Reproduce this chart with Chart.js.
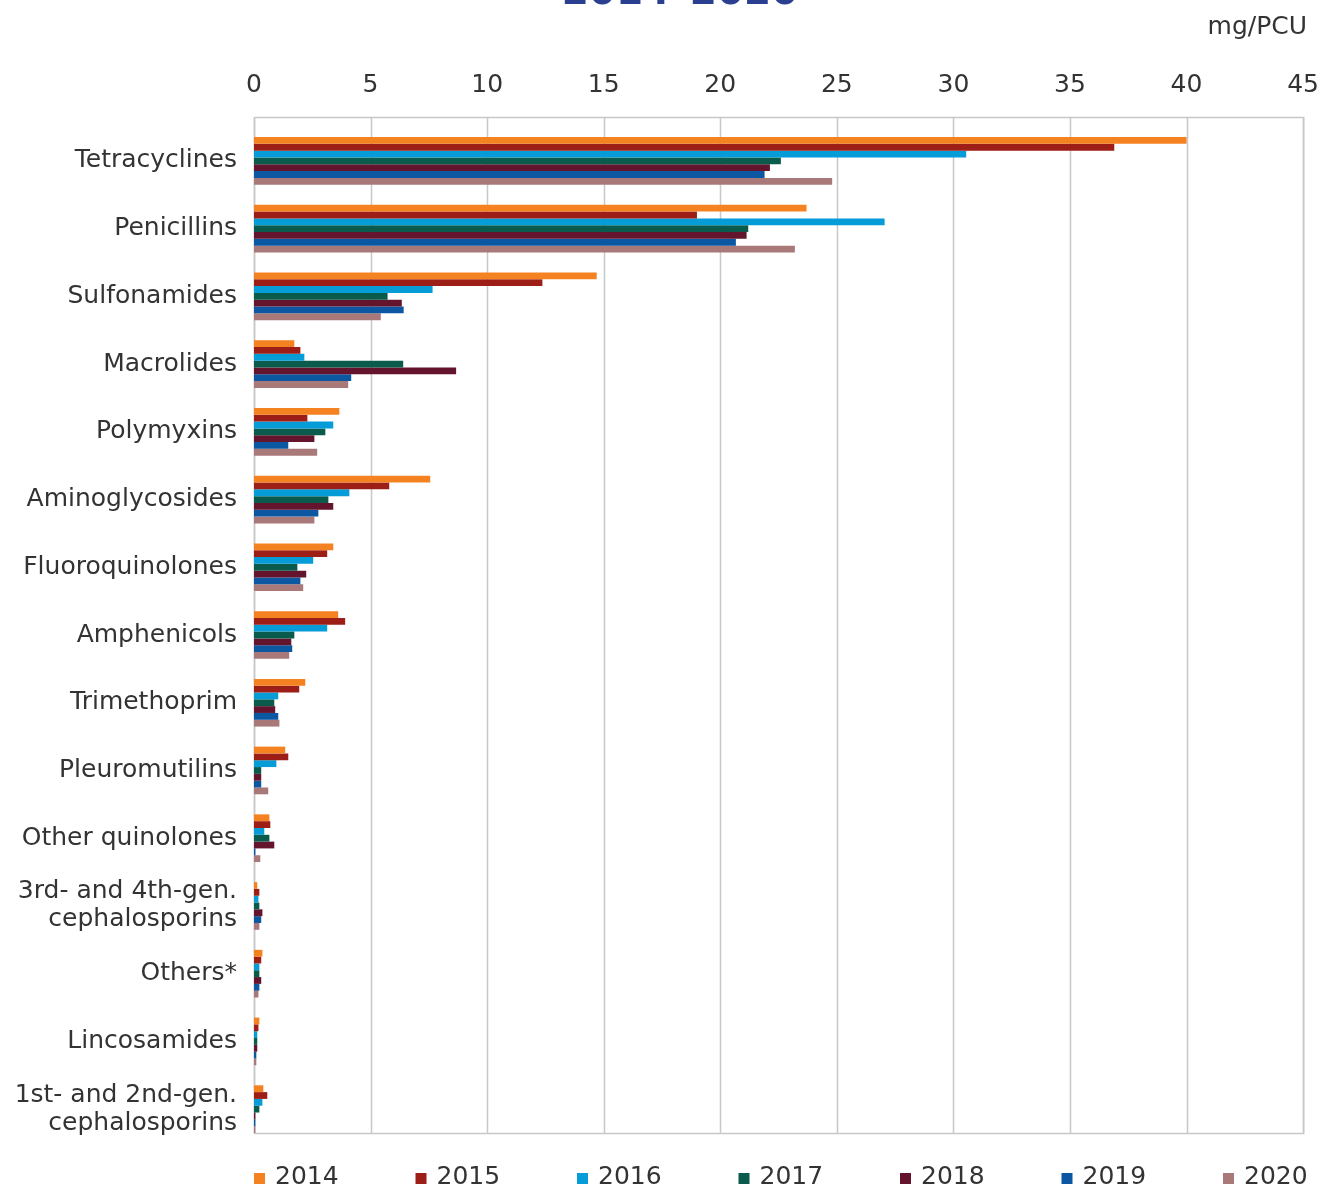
<!DOCTYPE html>
<html lang="en">
<head>
  <meta charset="UTF-8" />
  <title>Antimicrobial use by class, mg/PCU, 2014–2020</title>
  <script src="https://cdn.jsdelivr.net/npm/chart.js"></script>
  <style>
    body {
      margin: 0;
      background: #fff;
    }
    #wrap {
      width: 1321px;
      height: 1187px;
    }
  </style>
</head>
<body>
  <div id="wrap"><canvas id="classChart" width="1321" height="1187"></canvas></div>

  <script>
    const categories = [
      "Tetracyclines", "Penicillins", "Sulfonamides", "Macrolides", "Polymyxins",
      "Aminoglycosides", "Fluoroquinolones", "Amphenicols", "Trimethoprim", "Pleuromutilins",
      "Other quinolones", ["3rd- and 4th-gen.", "cephalosporins"], "Others*", "Lincosamides",
      ["1st- and 2nd-gen.", "cephalosporins"]
    ];
    const years = ["2014", "2015", "2016", "2017", "2018", "2019", "2020"];

    const y2014 = [40.0, 23.7, 14.7, 1.73, 3.66, 7.56, 3.4, 3.61, 2.2, 1.34, 0.66, 0.14, 0.36, 0.23, 0.4];
    const y2015 = [36.9, 19.0, 12.37, 1.99, 2.29, 5.8, 3.14, 3.91, 1.94, 1.47, 0.7, 0.23, 0.31, 0.19, 0.57];
    const y2016 = [30.55, 27.05, 7.66, 2.16, 3.4, 4.09, 2.54, 3.14, 1.04, 0.96, 0.44, 0.19, 0.23, 0.14, 0.36];
    const y2017 = [22.6, 21.2, 5.73, 6.4, 3.06, 3.19, 1.86, 1.73, 0.87, 0.31, 0.66, 0.23, 0.23, 0.14, 0.23];
    const y2018 = [22.13, 21.13, 6.34, 8.67, 2.59, 3.4, 2.24, 1.6, 0.91, 0.31, 0.87, 0.36, 0.31, 0.14, 0.06];
    const y2019 = [21.9, 20.67, 6.42, 4.17, 1.47, 2.76, 1.99, 1.64, 1.04, 0.31, 0.06, 0.31, 0.23, 0.1, 0.06];
    const y2020 = [24.8, 23.2, 5.44, 4.04, 2.71, 2.59, 2.11, 1.51, 1.09, 0.61, 0.27, 0.23, 0.19, 0.1, 0.06];

    const seriesValues = [y2014, y2015, y2016, y2017, y2018, y2019, y2020];
    const colors = ["#F58220", "#9C1E16", "#069CD8", "#0B5B4C", "#65142E", "#0B57A2", "#A97879"];

    const FONT = "'DejaVu Sans', Verdana, sans-serif";
    const TEXT = "#333333";
    const GRID = "#c8c8c8";

    // plot frame sits 10px above the category bands, like the original
    const frameTop = 117;
    const frameBottom = 1133;

    const framePlugin = {
      id: "frame",
      beforeDatasetsDraw(chart) {
        const ctx = chart.ctx;
        const x = chart.scales.x;
        const area = chart.chartArea;
        ctx.save();
        ctx.strokeStyle = GRID;
        ctx.lineWidth = 1.5;
        x.ticks.forEach(t => {
          const px = Math.round(x.getPixelForValue(t.value)) + 0.5;
          ctx.beginPath();
          ctx.moveTo(px, frameTop);
          ctx.lineTo(px, frameBottom);
          ctx.stroke();
        });
        ctx.strokeRect(area.left + 0.5, frameTop + 0.5, area.right - area.left, frameBottom - frameTop);
        ctx.restore();
      },
      afterDraw(chart) {
        const ctx = chart.ctx;
        ctx.save();
        // title, cut off at the top of the picture
        ctx.fillStyle = "#2B3F91";
        ctx.font = "bold 39px " + FONT;
        ctx.textAlign = "center";
        ctx.textBaseline = "alphabetic";
        ctx.fillText("2014–2020", 680, 4);

        // unit
        ctx.fillStyle = TEXT;
        ctx.font = "25px " + FONT;
        ctx.textAlign = "right";
        ctx.textBaseline = "middle";
        ctx.fillText("mg/PCU", 1307, 27);

        // legend
        ctx.textAlign = "left";
        ctx.textBaseline = "alphabetic";
        chart.data.datasets.forEach((ds, i) => {
          const lx = 254 + i * 161.5;
          ctx.fillStyle = ds.backgroundColor;
          ctx.fillRect(lx, 1173, 11, 11);
          ctx.fillStyle = TEXT;
          ctx.fillText(ds.label, lx + 21, 1184);
        });
        ctx.restore();
      }
    };

    new Chart(document.getElementById("classChart").getContext("2d"), {
      type: "bar",
      data: {
        labels: categories,
        datasets: years.map((yr, i) => ({
          label: yr,
          data: seriesValues[i],
          backgroundColor: colors[i],
          borderWidth: 0,
          barPercentage: 1.0,
          categoryPercentage: 0.704
        }))
      },
      options: {
        indexAxis: "y",
        responsive: false,
        animation: false,
        layout: {
          padding: { left: 0, right: 0, top: 0, bottom: 44 }
        },
        plugins: {
          legend: { display: false },
          tooltip: { enabled: false }
        },
        scales: {
          x: {
            position: "top",
            min: 0,
            max: 45,
            ticks: {
              stepSize: 5,
              color: TEXT,
              // tall line height lifts the labels without a large padding
              font: { family: FONT, size: 25, lineHeight: 3.2 },
              padding: 2
            },
            grid: { display: false, drawTicks: false },
            border: { display: false },
            afterFit(scale) { scale.height = 127; }
          },
          y: {
            offset: true,
            ticks: {
              color: TEXT,
              font: { family: FONT, size: 25, lineHeight: 1.12 },
              padding: 17,
              autoSkip: false
            },
            grid: { display: false, drawTicks: false },
            border: { display: false },
            afterFit(scale) { scale.width = 254; }
          }
        }
      },
      plugins: [framePlugin]
    });
  </script>
</body>
</html>
